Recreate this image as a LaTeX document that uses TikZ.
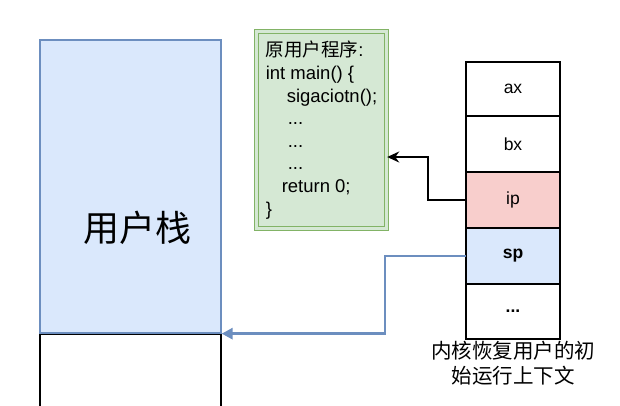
\documentclass[tikz,border=0pt]{standalone}
\usepackage{fontspec}
\setmainfont{Liberation Sans}
\newfontfamily\cjkfont{Noto Sans CJK SC}
\usetikzlibrary{arrows.meta, positioning}
\definecolor{stackblue}{HTML}{DAE8FC}
\definecolor{stackline}{HTML}{6C8EBF}
\definecolor{codegreen}{HTML}{D5E8D4}
\definecolor{codeline}{HTML}{82B366}
\definecolor{ipred}{HTML}{F8CECC}

\begin{document}
\begin{tikzpicture}[x=1pt, y=-1pt,
      cell/.style={rectangle, draw=black, line width=1.6pt,
        minimum width=94pt, minimum height=54pt, inner sep=0pt,
        outer sep=0pt, font=\fontsize{17.5}{20}\selectfont},
      code/.style={rectangle, draw=codeline, double=codegreen,
        double distance=2.5pt, line width=1.4pt, fill=codegreen,
        minimum width=130pt, minimum height=197pt, align=left,
        font=\fontsize{18.5}{22.6}\selectfont},
      flecha/.style={-{Stealth[length=12pt, width=11pt]}, line width=1.5pt},
      vuelta/.style={-{Triangle[length=11pt, width=11pt]}, line width=2.8pt,
        draw=stackline}
    ]
      \clip (0,0) rectangle (620,405);

      % pila de usuario
      \node[rectangle, draw=stackline, fill=stackblue, line width=1.3pt,
        minimum width=181pt, minimum height=293pt] (ustack) at (130.5,186.5) {};
      \node[font=\cjkfont\fontsize{36}{40}\selectfont] (ustacklabel) at (137,228) {用户栈};
      \node[rectangle, draw=black, line width=1.6pt, minimum width=181pt,
        minimum height=90pt, below=0pt of ustack] (ulow) {};

      % programa
      \node[code] (prog) at (321.5,130) {{\cjkfont 原用户程序}:\\
        int main() \{\\
        \hspace*{21pt}sigaciotn();\\
        \hspace*{22pt}...\\
        \hspace*{22pt}...\\
        \hspace*{22pt}...\\
        \hspace*{16pt}return 0;\\
        \}};

      % contexto del kernel
      \node[cell] (ax) at (513,89) {ax};
      \node[cell, below=0pt of ax, minimum height=56pt] (bx) {bx};
      \node[cell, below=0pt of bx, minimum height=56pt, fill=ipred] (ip) {ip};
      \node[cell, below=0pt of ip, minimum height=56pt, fill=stackblue] (sp) {\bfseries sp};
      \node[cell, below=0pt of sp, minimum height=55pt] (rest) {\bfseries ...};
      \node[below=1pt of rest, align=center, inner sep=1pt,
        font=\cjkfont\fontsize{20.5}{25}\selectfont] (ctx) {内核恢复用户的初\\始运行上下文};

      \draw[flecha] (ip.west) -- ++(-38,0) |- ([yshift=-27pt]prog.east);
      \draw[vuelta] (sp.west) -- ++(-81,0) |- (ustack.south east);
    \end{tikzpicture}
\end{document}
